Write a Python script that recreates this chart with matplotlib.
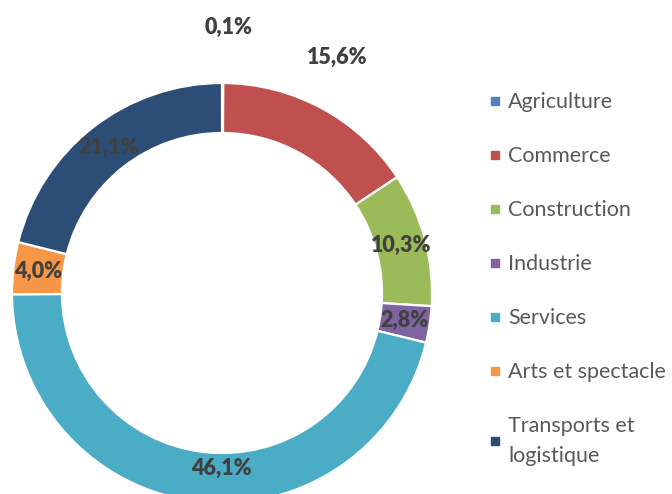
import numpy as np
import matplotlib.pyplot as plt
from matplotlib.lines import Line2D

# donut data
labels = ["Agriculture", "Commerce", "Construction", "Industrie",
          "Services", "Arts et spectacle", "Transports et\nlogistique"]
shares = [0.1, 15.6, 10.3, 2.8, 46.1, 4.0, 21.1]
pct_text = ["0,1%", "15,6%", "10,3%", "2,8%", "46,1%", "4,0%", "21,1%"]
colors = ["#4F81BD", "#C0504D", "#9BBB59", "#8064A2",
          "#4BACC6", "#F79646", "#2C4D75"]

plt.rcParams['font.family'] = ['Lato', 'DejaVu Sans']

W, H = 672, 494
fig = plt.figure(figsize=(W / 100, H / 100), dpi=100)
ax = fig.add_axes([0, 0, 1, 1])

wedges, _ = ax.pie(shares, colors=colors, startangle=90, counterclock=False,
                   radius=1, wedgeprops=dict(width=0.238, edgecolor='white', linewidth=1.6))

# centre of the ring in pixels, outer radius 210 px (limits set after pie, it resets them)
cx, cy, R = 222, 494 - 293, 210
ax.set_xlim(-cx / R, (W - cx) / R)
ax.set_ylim(-cy / R, (H - cy) / R)
ax.set_aspect('equal')
ax.axis('off')

# labels: in the middle of the ring, except the two small/top ones placed outside
r_mid = 1 - 0.238 / 2
outside = {0: (0.03, 1.265), 1: (0.55, 1.12)}
nudge = {4: (0.1, 0.04)}
for i, w in enumerate(wedges):
    ang = np.deg2rad((w.theta1 + w.theta2) / 2)
    if i in outside:
        x, y = outside[i]
    else:
        x, y = r_mid * np.cos(ang), r_mid * np.sin(ang)
        dx, dy = nudge.get(i, (0, 0))
        x, y = x + dx, y + dy
    ax.text(x, y, pct_text[i], ha='center', va='center', fontsize=15.5,
            fontweight='heavy', color='#404040')

handles = [Line2D([], [], marker='s', linestyle='none', markersize=6,
                  markerfacecolor=c, markeredgecolor=c) for c in colors]
leg = fig.legend(handles, labels, loc='upper left', bbox_to_anchor=(0.716, 0.831),
                 frameon=False, fontsize=15.5, labelcolor='#595959', labelspacing=1.58,
                 handletextpad=0.35, handlelength=0.5, borderaxespad=0)
for t in leg.get_texts():
    t.set_linespacing(1.6)

fig.savefig("out.png", dpi=100)
